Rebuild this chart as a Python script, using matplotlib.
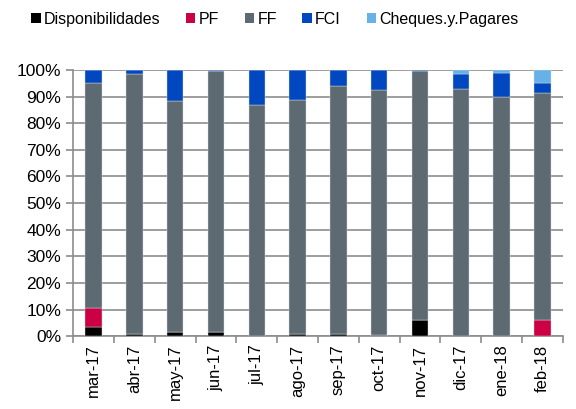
import numpy as np
import matplotlib.pyplot as plt
from matplotlib.patches import Patch

plt.rcParams['font.family'] = ['Liberation Sans', 'DejaVu Sans']

meses = ['mar-17', 'abr-17', 'may-17', 'jun-17', 'jul-17', 'ago-17',
         'sep-17', 'oct-17', 'nov-17', 'dic-17', 'ene-18', 'feb-18']

# participacion (%) de cada componente
disponibilidades = [3.5, 0.8, 1.5, 1.5, 0.2, 1.0, 1.0, 0.3, 6.0, 0.0, 0.0, 0.0]
pf               = [7.0, 0.0, 0.0, 0.0, 0.0, 0.0, 0.0, 0.0, 0.0, 0.0, 0.0, 5.9]
ff               = [84.6, 97.7, 86.8, 98.2, 86.6, 87.7, 92.9, 92.1, 93.5, 92.9, 89.8, 85.3]
fci              = [4.9, 1.5, 11.7, 0.3, 13.2, 11.3, 6.1, 7.6, 0.5, 5.5, 9.2, 3.8]
cheques          = [0.0, 0.0, 0.0, 0.0, 0.0, 0.0, 0.0, 0.0, 0.0, 1.6, 1.0, 5.0]

series = [disponibilidades, pf, ff, fci, cheques]
nombres = ['Disponibilidades', 'PF', 'FF', 'FCI', 'Cheques.y.Pagares']
colores = ['#000000', '#CC0044', '#5E6A72', '#0047C0', '#66B2E6']

fig = plt.figure(figsize=(5.76, 4.09), dpi=100)
ax = fig.add_axes([0.127, 0.178, 0.850, 0.651])

x = np.arange(len(meses))
base = np.zeros(len(meses))
for vals, nom, col in zip(series, nombres, colores):
    vals = np.array(vals)
    ax.bar(x, vals, width=0.4, bottom=base, color=col, label=nom,
           edgecolor='#d8dde2', linewidth=0.3, zorder=3)
    base += vals

ax.set_xlim(-0.5, len(meses) - 0.5)
ax.set_ylim(0, 100)
ax.set_yticks(np.arange(0, 101, 10))
ax.set_yticklabels(['%d%%' % v for v in range(0, 101, 10)], fontsize=12.5)
ax.yaxis.grid(True, color='#8c8c8c', linewidth=1.2, zorder=0)

# ticks entre categorias, etiquetas al centro
ax.set_xticks(np.arange(-0.5, len(meses), 1))
ax.set_xticklabels([])
ax.set_xticks(x, minor=True)
ax.set_xticklabels(meses, minor=True, rotation=90, fontsize=12)
ax.tick_params(axis='x', which='minor', length=0, pad=6)
ax.tick_params(axis='x', which='major', length=5, width=1.2, color='#8c8c8c')
ax.tick_params(axis='y', length=5, width=1.2, color='#8c8c8c')

for s in ['top', 'right']:
    ax.spines[s].set_visible(False)
for s in ['left', 'bottom']:
    ax.spines[s].set_color('#8c8c8c')
    ax.spines[s].set_linewidth(1.2)

handles = [Patch(facecolor=c, edgecolor='none') for c in colores]
fig.legend(handles, nombres, loc='center', bbox_to_anchor=(0.477, 0.953), ncol=5,
           frameon=False, fontsize=11.5, handlelength=0.6, handleheight=0.6,
           handletextpad=0.2, columnspacing=1.6)

fig.savefig('out.png', dpi=100)
